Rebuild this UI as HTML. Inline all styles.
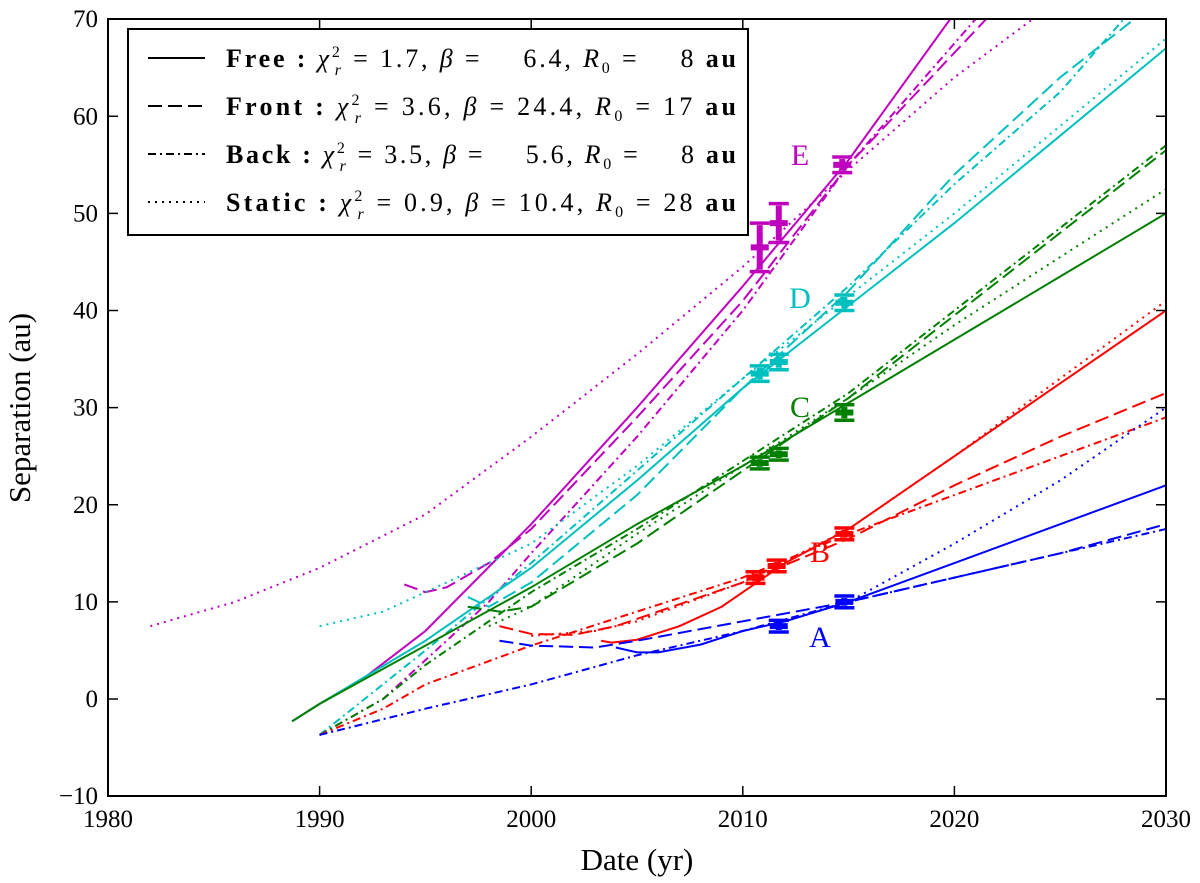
<!DOCTYPE html>
<html><head><meta charset="utf-8"><style>
body{margin:0;background:#fff;}
svg{display:block;font-family:"Liberation Serif",serif;}
</style></head><body>
<svg id="chart" width="1200" height="883"></svg>
<script>
const xTicks=[1980,1990,2000,2010,2020,2030];
const yTicks=[-10,0,10,20,30,40,50,60,70];
const colors={E:'#bf00bf',D:'#00bfbf',C:'#007f00',B:'#ff0000',A:'#0000ff'};
const styles={free:'',front:'14,6',back:'8,4,2,4',stat:'2,5'};
// series: [year, separation]
const E_free=[[1988.7,-2.3],[1990,-0.5],[1992,2],[1995,7],[2000,18],[2005,30],[2010,42.5],[2015,55.5],[2019.8,70]];
const E_front=[[1994,11.8],[1995,11],[1996,11.5],[1998,14],[2000,17.5],[2005,29],[2010,41],[2015,55],[2021.5,70]];
const E_back=[[1990,-3.7],[1993,0],[1995,4],[1998,10],[2000,15],[2005,27],[2010,40],[2015,55],[2021,70]];
const E_stat=[[1982,7.5],[1986,10],[1990,13.5],[1995,19],[2000,27],[2005,35.5],[2010,44.5],[2015,54.5],[2020,64],[2023.7,70]];
const D_free=[[1988.7,-2.3],[1990,-0.5],[1995,6],[2000,13.5],[2005,22.5],[2010,32],[2015,40.5],[2020,49],[2025,58],[2030,67]];
const D_front=[[1997,10.5],[1998,9.5],[2000,12],[2005,21],[2010,32],[2015,42],[2020,54],[2025,64],[2028.5,70]];
const D_back=[[1990,-3.7],[1995,5],[2000,14],[2005,23.5],[2010,33],[2015,42.5],[2020,53],[2025,62.5],[2028,70]];
const D_stat=[[1990,7.5],[1993,9],[1995,11],[2000,16],[2005,24],[2010,33],[2015,41.5],[2020,50],[2025,59],[2030,68]];
const C_free=[[1988.7,-2.3],[1990,-0.5],[1995,5.5],[2000,11.5],[2005,18],[2010,24],[2015,30.5],[2020,37],[2025,43.5],[2030,50]];
const C_front=[[1997,9.5],[1998.5,9],[2000,9.5],[2005,16],[2010,23.5],[2015,31],[2020,39.5],[2025,48],[2030,56.5]];
const C_back=[[1990,-3.7],[1993,0],[1995,3.5],[2000,11],[2005,17.5],[2010,24.5],[2015,31.5],[2020,40],[2025,48.5],[2030,57]];
const C_stat=[[1998,7.5],[2000,9.5],[2005,17],[2010,24],[2015,31],[2020,38.5],[2025,45.5],[2030,52.5]];
const B_free=[[2003.3,6],[2003.8,5.8],[2005,6.1],[2007,7.5],[2009,9.5],[2010,11],[2012,14],[2015,17.5],[2020,25],[2025,32.5],[2030,40]];
const B_front=[[1998.5,7.5],[2000,6.7],[2002,6.6],[2004,7.5],[2006,9],[2010,12],[2015,16.5],[2020,22],[2025,27],[2030,31.5]];
const B_back=[[1990,-3.7],[1993,-1],[1995,1.5],[2000,5.5],[2005,9],[2010,12.5],[2015,17],[2020,21],[2025,25],[2030,29]];
const B_stat=[[2000,6.5],[2003,7],[2005,8],[2010,12],[2015,17.5],[2020,25],[2025,33],[2030,41]];
const A_free=[[2004,5.3],[2005,4.8],[2006,4.8],[2008,5.6],[2010,7],[2012,8],[2015,10],[2020,14],[2025,18],[2030,22]];
const A_front=[[1998.5,6],[2000,5.5],[2003,5.3],[2005,6],[2010,8],[2015,10],[2020,12.5],[2025,15],[2030,18]];
const A_back=[[1990,-3.7],[1995,-1],[2000,1.5],[2005,4.5],[2010,7],[2015,10],[2020,12.5],[2025,15],[2030,17.5]];
const A_stat=[[2012,8],[2015,10],[2020,16],[2025,22.5],[2030,30]];
// error bars [year, value, err]
const E_pts=[[2010.8,46.5,2.5],[2011.7,49,2],[2014.7,55,0.8]];
const D_pts=[[2010.8,33.5,0.8],[2011.7,34.7,0.8],[2014.8,40.8,0.8]];
const C_pts=[[2010.8,24.3,0.6],[2011.7,25.2,0.6],[2014.8,29.5,0.8]];
const B_pts=[[2010.6,12.5,0.6],[2011.6,13.7,0.6],[2014.8,17,0.6]];
const A_pts=[[2011.7,7.5,0.6],[2014.8,10,0.6]];

const X=y=>108+(y-1980)*21.16;
const Y=v=>699-v*9.7125;
const svg=document.getElementById('chart');
const NS='http://www.w3.org/2000/svg';
function mk(t,a,p){const e=document.createElementNS(NS,t);for(const k in a)e.setAttribute(k,a[k]);(p||svg).appendChild(e);return e;}
mk('defs',{}).innerHTML='<clipPath id="pc"><rect x="108" y="19" width="1058" height="777"/></clipPath>';
const g=mk('g',{'clip-path':'url(#pc)'});
const series={E:[E_free,E_front,E_back,E_stat],D:[D_free,D_front,D_back,D_stat],C:[C_free,C_front,C_back,C_stat],B:[B_free,B_front,B_back,B_stat],A:[A_free,A_front,A_back,A_stat]};
const kinds=['free','front','back','stat'];
for(const s in series){series[s].forEach((arr,i)=>{
  const p=mk('polyline',{points:arr.map(d=>X(d[0])+','+Y(d[1])).join(' '),fill:'none',stroke:colors[s],'stroke-width':2,'stroke-dasharray':styles[kinds[i]]},g);
  
  
});}
const pts={E:E_pts,D:D_pts,C:C_pts,B:B_pts,A:A_pts};
for(const s in pts){pts[s].forEach(d=>{
  const eb=mk('g',{stroke:colors[s],'stroke-width':3.5,fill:'none'},g);
  
  
  const x=X(d[0]),y1=Y(d[1]-d[2]),y2=Y(d[1]+d[2]);
  mk('line',{x1:x,x2:x,y1:y1-2,y2:y2+2,'stroke-width':6},eb);
  mk('line',{x1:x-10,x2:x+10,y1:y1,y2:y1},eb);
  mk('line',{x1:x-10,x2:x+10,y1:y2,y2:y2},eb);
  mk('line',{x1:x-9,x2:x+9,y1:Y(d[1]),y2:Y(d[1]),'stroke-width':6},eb);
});}
const labs=[['E',800,165],['D',800,308],['C',800,417],['B',820,562],['A',820,647]];
labs.forEach(l=>{const t=mk('text',{x:l[1],y:l[2],fill:colors[l[0]],'font-size':30,'text-anchor':'middle'});t.textContent=l[0];
});
// axes
const fr=mk('rect',{x:108,y:19,width:1058,height:777,fill:'none',stroke:'#000','stroke-width':2});

xTicks.forEach(v=>{const x=X(v);mk('line',{x1:x,x2:x,y1:796,y2:786,stroke:'#000','stroke-width':1.5});mk('line',{x1:x,x2:x,y1:19,y2:29,stroke:'#000','stroke-width':1.5});
 const t=mk('text',{x:x,y:827,'font-size':25,'text-anchor':'middle'});t.textContent=v;});
yTicks.forEach(v=>{const y=Y(v);mk('line',{x1:108,x2:118,y1:y,y2:y,stroke:'#000','stroke-width':1.5});mk('line',{x1:1156,x2:1166,y1:y,y2:y,stroke:'#000','stroke-width':1.5});
 const t=mk('text',{x:98,y:y+8,'font-size':25,'text-anchor':'end'});t.textContent=(v<0?'\u2212'+(-v):v);});
let t=mk('text',{x:637,y:870,'font-size':31,'text-anchor':'middle'});t.textContent='Date (yr)';
t=mk('text',{x:0,y:0,'font-size':31,'text-anchor':'middle',transform:'translate(30,408) rotate(-90)'});t.textContent='Separation (au)';
// legend
const lg=mk('g',{});
mk('rect',{x:128,y:29,width:620,height:206,fill:'#fff',stroke:'#000','stroke-width':2},lg);
const leg=[['Free :','1.7','\u2002\u20026.4','\u2002\u20028','free'],['Front :','3.6','24.4','17','front'],['Back :','3.5','\u2002\u20025.6','\u2002\u20028','back'],['Static :','0.9','10.4','28','stat']];
leg.forEach((r,i)=>{const y=58+i*48;
 const ln=mk('line',{x1:148,x2:205,y1:y,y2:y,stroke:'#000','stroke-width':2,'stroke-dasharray':styles[r[4]]},lg);
 
 const tx=mk('text',{x:226,y:y+9,'font-size':26,textLength:510,lengthAdjust:'spacing'},lg);
 
 tx.innerHTML='<tspan font-weight="bold">'+r[0]+'</tspan> <tspan font-style="italic">χ</tspan><tspan font-size="16" dy="-10">2</tspan><tspan font-size="16" dx="-8" dy="18" font-style="italic">r</tspan><tspan dy="-8"> = '+r[1]+', </tspan><tspan font-style="italic">β</tspan> = '+r[2]+', <tspan font-style="italic">R</tspan><tspan font-size="16" dy="6">0</tspan><tspan dy="-6"> = '+r[3]+' </tspan><tspan font-weight="bold">au</tspan>';
});
</script>
</body></html>
